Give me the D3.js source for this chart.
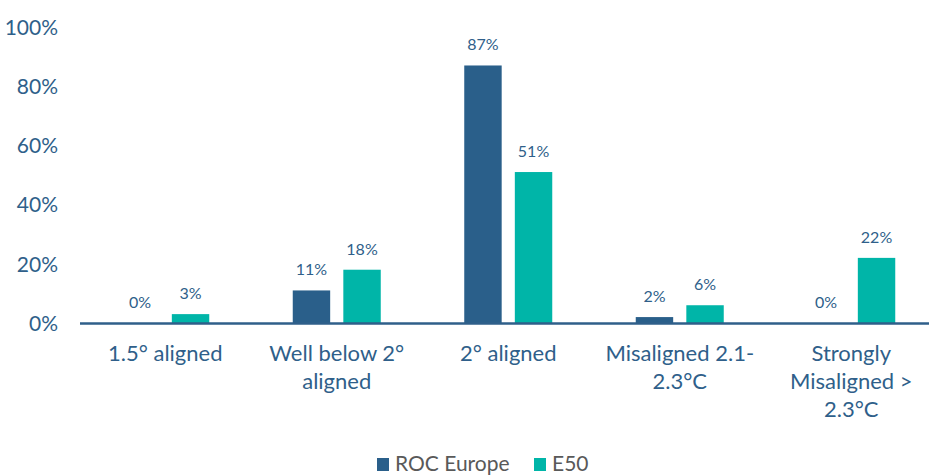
<!DOCTYPE html>
<html><head><meta charset="utf-8">
<script src="https://cdn.jsdelivr.net/npm/d3@7"></script>
<style>body{margin:0;background:#fff}svg{display:block}</style>
</head><body>
<svg id="c" width="929" height="475"></svg>
<script>
const categories = [["1.5° aligned"],["Well below 2°","aligned"],["2° aligned"],["Misaligned 2.1-","2.3°C"],["Strongly","Misaligned >","2.3°C"]];
const seriesNames = ["ROC Europe","E50"];
const rocEurope = [0,11,87,2,0];
const e50 = [3,18,51,6,22];
const yTicks = [0,20,40,60,80,100];
const colors = ["#2A5F8A","#00B5A8"];
const textColor = "#2F5F8A";
const font = "Lato, 'Open Sans', sans-serif";

const svg = d3.select("#c");
const x0 = d3.scaleBand().domain(d3.range(categories.length)).range([79.5, 937]);
const x1 = d3.scaleBand().domain(seriesNames).range([-44, 44]).paddingInner(0.26);
const y = d3.scaleLinear().domain([0,100]).range([323, 27]);

const yAxis = d3.axisLeft(y).tickValues(yTicks).tickFormat(d=>d+"%").tickSize(0).tickPadding(0);
const ya = svg.append("g").attr("transform","translate(58,0)").call(yAxis);
ya.select(".domain").remove();
ya.selectAll("text").attr("fill",textColor).style("font-family",font).style("font-size","21px").attr("dy","0.35em");

const data = [rocEurope, e50];
const groups = svg.append("g").selectAll("g").data(categories).join("g")
  .attr("transform",(d,i)=>`translate(${x0(i)+x0.bandwidth()/2},0)`);

seriesNames.forEach((s,si)=>{
  groups.append("rect")
    .attr("x",x1(s)).attr("width",x1.bandwidth())
    .attr("y",(d,i)=>y(data[si][i])).attr("height",(d,i)=>y(0)-y(data[si][i]))
    .attr("fill",colors[si]);
  groups.append("text")
    .attr("x",x1(s)+x1.bandwidth()/2)
    .attr("y",(d,i)=>y(data[si][i])-15)
    .attr("text-anchor","middle").attr("fill",textColor)
    .style("font-family",font).style("font-size","16px")
    .text((d,i)=>data[si][i]+"%");
});

svg.append("line").attr("x1",80).attr("x2",929).attr("y1",323.5).attr("y2",323.5)
  .attr("stroke","#2F5F8A").attr("stroke-width",2.5);

groups.append("text").attr("text-anchor","middle").attr("fill",textColor)
  .style("font-family",font).style("font-size","22px")
  .selectAll("tspan").data(d=>d).join("tspan")
  .attr("x",0).attr("y",(d,i)=>361+i*28).text(d=>d);

const leg = svg.append("g");
const legItems = [{x:377,tx:395},{x:534,tx:552}];
seriesNames.forEach((s,i)=>{
  leg.append("rect").attr("x",legItems[i].x).attr("y",458).attr("width",12).attr("height",13).attr("fill",colors[i]);
  leg.append("text").attr("x",legItems[i].tx).attr("y",471).attr("fill","#595959")
    .style("font-family",font).style("font-size","21px").text(s);
});
</script>
</body></html>
